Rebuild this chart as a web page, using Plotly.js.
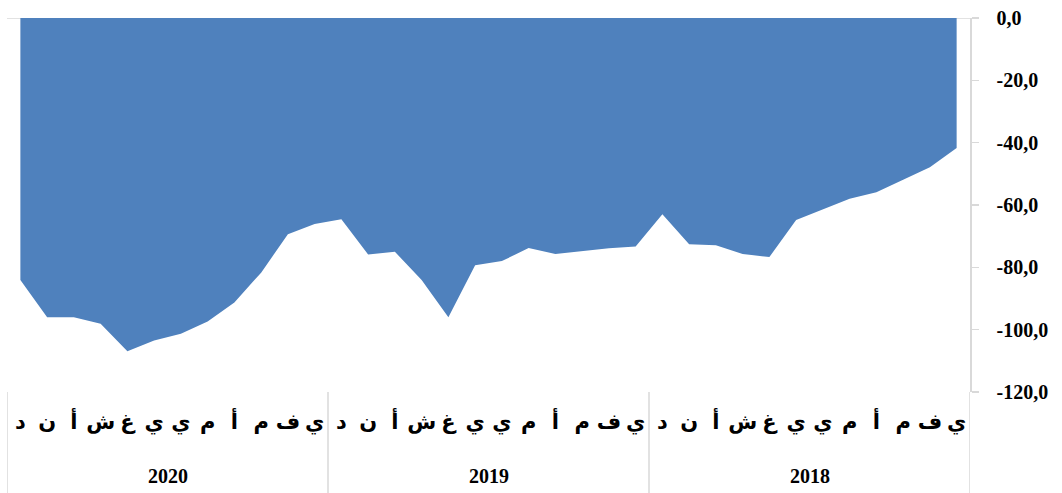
<!DOCTYPE html>
<html><head><meta charset="utf-8">
<script src="https://cdn.plot.ly/plotly-3.0.1.min.js"></script>
<style>html,body{margin:0;padding:0;background:#fff;}#chart{width:1062px;height:493px;}</style>
</head><body><div id="chart"></div>
<script>
const years = ['2018', '2019', '2020'];
const months = ['ي', 'ف', 'م', 'أ', 'م', 'ي', 'ي', 'غ', 'ش', 'أ', 'ن', 'د'];
const values2018 = [-41.7, -47.9, -51.9, -55.9, -58.0, -61.3, -64.8, -76.7, -75.7, -72.9, -72.6, -63.0];
const values2019 = [-73.3, -73.9, -74.9, -75.7, -73.8, -78.0, -79.3, -96.0, -84.1, -75.0, -75.9, -64.6];
const values2020 = [-66.1, -69.4, -81.7, -91.3, -97.4, -101.3, -103.5, -106.9, -98.1, -96.0, -96.0, -84.1];
const yTickVals = [0, -20, -40, -60, -80, -100, -120];
const yTickText = ['0,0', '-20,0', '-40,0', '-60,0', '-80,0', '-100,0', '-120,0'];

const seriesByYear = [values2018, values2019, values2020];
const xs = [], ys = [], tickText = [];
seriesByYear.forEach((vals, yi) => {
  vals.forEach((v, mi) => {
    xs.push(yi * months.length + mi);
    ys.push(v);
    tickText.push(months[mi]);
  });
});
const n = xs.length;
const gridColor = '#D9D9D9';
const serif = 'Liberation Serif, DejaVu Serif, serif';

const shapes = [];
shapes.push({type: 'line', xref: 'paper', yref: 'y', x0: 0, x1: 1, y0: 0, y1: 0, line: {color: gridColor, width: 1.5}, layer: 'below'});
for (let k = 0; k <= years.length; k++) {
  const xv = k * months.length - 0.5;
  shapes.push({type: 'line', xref: 'x', yref: 'paper', x0: xv, x1: xv, y0: -0.27, y1: 0, line: {color: gridColor, width: 1.5}});
}

const annotations = years.map((yr, yi) => ({
  x: yi * months.length + (months.length - 1) / 2,
  xref: 'x', yref: 'paper', y: -0.225, yanchor: 'middle',
  text: '<b>' + yr + '</b>', showarrow: false,
  font: {family: serif, size: 20, color: '#000'}
}));

const data = [{
  x: xs, y: ys, type: 'scatter', mode: 'lines', fill: 'tozeroy',
  fillcolor: '#4F81BD', line: {width: 0, color: '#4F81BD'}, hoverinfo: 'skip'
}];

const layout = {
  width: 1062, height: 493,
  margin: {l: 7, r: 92, t: 18, b: 101},
  paper_bgcolor: '#fff', plot_bgcolor: '#fff',
  showlegend: false,
  xaxis: {
    range: [n - 0.5, -0.5], tickmode: 'array', tickvals: xs, ticktext: tickText,
    ticks: '', showgrid: false, zeroline: false, showline: false,
    tickangle: 0, ticklabelstandoff: 15,
    tickfont: {family: 'DejaVu Sans, sans-serif', size: 21, color: '#000', weight: 'bold'}
  },
  yaxis: {
    side: 'right', range: [-120, 0], tickmode: 'array', tickvals: yTickVals, ticktext: yTickText,
    ticks: 'outside', ticklen: 7, tickwidth: 1.5, tickcolor: gridColor,
    showline: true, linecolor: gridColor, linewidth: 1.5,
    showgrid: false, zeroline: false, ticklabelstandoff: 14,
    tickfont: {family: serif, size: 20, color: '#000', weight: 'bold'}
  },
  yaxis2: {
    overlaying: 'y', side: 'right', range: [-120, 0], tickmode: 'array', tickvals: yTickVals,
    ticks: 'inside', ticklen: 7, tickwidth: 1.5, tickcolor: gridColor,
    showticklabels: false, showline: false, showgrid: false, zeroline: false
  },
  shapes: shapes,
  annotations: annotations
};

Plotly.newPlot('chart', data, layout, {staticPlot: true, displayModeBar: false});
</script>
</body></html>
